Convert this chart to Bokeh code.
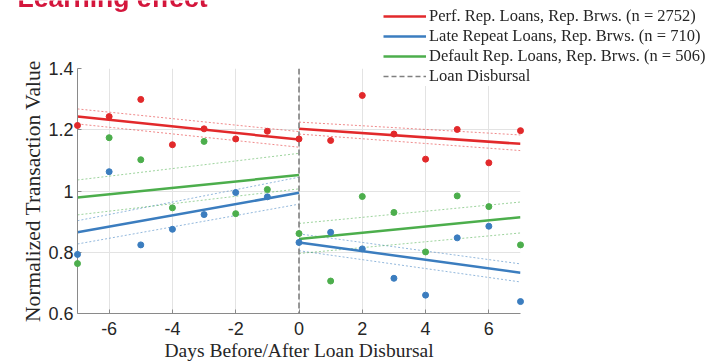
from bokeh.plotting import figure
from bokeh.models import (Range1d, FixedTicker, Span, Legend, LegendItem, Label)
from bokeh.embed import file_html
from bokeh.resources import INLINE

# ---------------- data ----------------
days = [-7, -6, -5, -4, -3, -2, -1, 0, 1, 2, 3, 4, 5, 6, 7]
perf = [1.214, 1.243, 1.299, 1.151, 1.203, 1.170, 1.195, 1.170,
        1.165, 1.312, 1.186, 1.104, 1.201, 1.092, 1.197]
late = [0.793, 1.063, 0.824, 0.875, 0.923, 0.995, 0.981, 0.832,
        0.865, 0.811, 0.715, 0.660, 0.847, 0.885, 0.639]
default = [0.763, 1.174, 1.102, 0.945, 1.162, 0.926, 1.005, 0.861,
           0.706, 0.982, 0.930, 0.801, 0.984, 0.949, 0.824]

fit_days_pre = [-7, 0]
fit_days_post = [0, 7]
perf_fit_pre = [1.243, 1.168]
perf_hi_pre = [1.268, 1.194]
perf_lo_pre = [1.219, 1.143]
perf_fit_post = [1.203, 1.154]
perf_hi_post = [1.225, 1.183]
perf_lo_post = [1.186, 1.132]
late_fit_pre = [0.865, 0.994]
late_hi_pre = [0.903, 1.045]
late_lo_pre = [0.827, 0.957]
late_fit_post = [0.832, 0.733]
late_hi_post = [0.860, 0.762]
late_lo_post = [0.805, 0.703]
def_fit_pre = [0.979, 1.052]
def_hi_pre = [1.036, 1.123]
def_lo_pre = [0.922, 1.007]
def_fit_post = [0.843, 0.914]
def_hi_post = [0.894, 0.964]
def_lo_post = [0.796, 0.863]

disbursal_day = 0
x_ticks = [-6, -4, -2, 0, 2, 4, 6]
x_tick_labels = ["-6", "-4", "-2", "0", "2", "4", "6"]
y_ticks = [0.6, 0.8, 1.0, 1.2, 1.4]
y_tick_labels = ["0.6", "0.8", "1", "1.2", "1.4"]

labels = ["Perf. Rep. Loans, Rep. Brws. (n = 2752)",
          "Late Repeat Loans, Rep. Brws. (n = 710)",
          "Default Rep. Loans, Rep. Brws. (n = 506)",
          "Loan Disbursal"]
title_text = "Learning effect"
x_label = "Days Before/After Loan Disbursal"
y_label = "Normalized Transaction Value"

RED = "#e2292b"
BLUE = "#3b7dbf"
GREEN = "#4cae4c"
GRAY = "#808080"
NAN = float("nan")

# ---------------- main figure ----------------
fig = figure(width=705, height=364, output_backend="svg", toolbar_location=None,
             x_range=Range1d(-7, 7), y_range=Range1d(0.6, 1.4),
             min_border_left=77, min_border_right=185,
             min_border_top=68, min_border_bottom=51)
fig.outline_line_color = None
fig.background_fill_color = "white"
fig.border_fill_color = "white"

for ax in (fig.xaxis[0], fig.yaxis[0]):
    ax.axis_line_color = "#8a8a8a"
    ax.axis_line_width = 1
    ax.major_tick_line_color = "#8a8a8a"
    ax.major_tick_in = 4
    ax.major_tick_out = 0
    ax.minor_tick_line_color = None
    ax.major_label_text_font = "Liberation Sans"
    ax.major_label_text_font_size = "18px"
    ax.major_label_text_color = "#262626"
    ax.axis_label_text_font = "Liberation Serif"
    ax.axis_label_text_font_style = "normal"
    ax.axis_label_text_color = "#262626"

fig.xaxis.ticker = FixedTicker(ticks=x_ticks)
fig.yaxis.ticker = FixedTicker(ticks=y_ticks)
fig.xaxis.major_label_overrides = {t: l for t, l in zip(x_ticks, x_tick_labels)}
fig.yaxis.major_label_overrides = {t: l for t, l in zip(y_ticks, y_tick_labels)}
fig.xaxis.axis_label = x_label
fig.yaxis.axis_label = y_label
fig.xaxis.axis_label_text_font_size = "19.5px"
fig.yaxis.axis_label_text_font_size = "21.5px"
fig.xaxis.major_label_standoff = 8
fig.yaxis.major_label_standoff = 4
fig.xaxis.axis_label_standoff = 2
fig.yaxis.axis_label_standoff = 0

fig.xgrid.ticker = FixedTicker(ticks=x_ticks)
fig.ygrid.ticker = FixedTicker(ticks=y_ticks)
fig.xgrid.grid_line_color = "#e3e3e3"
fig.ygrid.grid_line_color = "#e3e3e3"

for xs, hi, lo, c in [
    (fit_days_pre, perf_hi_pre, perf_lo_pre, RED),
    (fit_days_post, perf_hi_post, perf_lo_post, RED),
    (fit_days_pre, late_hi_pre, late_lo_pre, BLUE),
    (fit_days_post, late_hi_post, late_lo_post, BLUE),
    (fit_days_pre, def_hi_pre, def_lo_pre, GREEN),
    (fit_days_post, def_hi_post, def_lo_post, GREEN),
]:
    for ys in (hi, lo):
        fig.line(xs, ys, line_color=c, line_width=1, line_dash="2 2", line_alpha=0.55)

for xs, ys, c in [
    (fit_days_pre, perf_fit_pre, RED), (fit_days_post, perf_fit_post, RED),
    (fit_days_pre, late_fit_pre, BLUE), (fit_days_post, late_fit_post, BLUE),
    (fit_days_pre, def_fit_pre, GREEN), (fit_days_post, def_fit_post, GREEN),
]:
    fig.line(xs, ys, line_color=c, line_width=2.5)

for ys, c in [(perf, RED), (late, BLUE), (default, GREEN)]:
    fig.scatter(days, ys, size=6, fill_color=c, line_color=c, level="overlay")

fig.add_layout(Span(location=disbursal_day, dimension="height", line_color=GRAY,
                    line_width=1.6, line_dash="6 3"))

# ---------------- overlay (legend + title) ----------------
ov = figure(width=705, height=90, output_backend="svg", toolbar_location=None,
            x_range=Range1d(0, 1), y_range=Range1d(0, 1),
            x_axis_type=None, y_axis_type=None,
            min_border_left=0, min_border_right=0, min_border_top=0, min_border_bottom=0)
ov.grid.visible = False
ov.outline_line_color = None
ov.background_fill_alpha = 0
ov.border_fill_alpha = 0
ov.styles = {"position": "fixed", "left": "0px", "top": "0px", "z-index": "5"}

r1 = ov.line([NAN, NAN], [NAN, NAN], line_color=RED, line_width=2.5)
r2 = ov.line([NAN, NAN], [NAN, NAN], line_color=BLUE, line_width=2.5)
r3 = ov.line([NAN, NAN], [NAN, NAN], line_color=GREEN, line_width=2.5)
r4 = ov.line([NAN, NAN], [NAN, NAN], line_color=GRAY, line_width=1.3, line_dash="5 3")

legend = Legend(items=[LegendItem(label=labels[0], renderers=[r1]),
                       LegendItem(label=labels[1], renderers=[r2]),
                       LegendItem(label=labels[2], renderers=[r3]),
                       LegendItem(label=labels[3], renderers=[r4])],
                location=(383, 4), padding=5, margin=0, spacing=-1,
                glyph_width=43, glyph_height=18, label_height=18, label_standoff=3,
                label_text_font="Liberation Serif", label_text_font_size="16.5px",
                label_text_color="#262626",
                background_fill_color="white", background_fill_alpha=1.0,
                border_line_color=None)
ov.add_layout(legend)

ov.add_layout(Label(x=17, y=92.5, x_units="screen", y_units="screen", text=title_text,
                    text_font="Liberation Sans", text_font_style="bold",
                    text_font_size="26.5px", text_color="#d4163c",
                    text_baseline="alphabetic"))

p = [fig, ov]
open("out.html", "w").write(file_html(p, INLINE))
